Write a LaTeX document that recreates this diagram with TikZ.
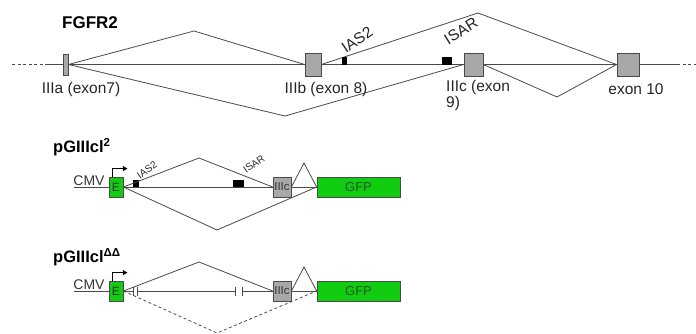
\documentclass[tikz,border=0pt]{standalone}
\usepackage{fontspec}
\setmainfont{Liberation Sans}
\usetikzlibrary{arrows.meta,calc}
\definecolor{ln}{HTML}{4A4A4A}
\definecolor{exgray}{HTML}{A8A8A8}
\definecolor{gfpgreen}{HTML}{11CC11}
\definecolor{gfptext}{HTML}{1F5A1F}
\tikzset{
  conn/.style={draw=ln, line width=0.8pt},
  dash line/.style={conn, dash pattern=on 3pt off 2.5pt},
  exonbox/.style={draw=ln, fill=exgray, line width=0.8pt, inner sep=0pt},
  blackbox/.style={draw=black, fill=black, inner sep=0pt},
  greenbox/.style={draw=ln, fill=gfpgreen, line width=0.8pt, inner sep=0pt},
  lbl/.style={font=\fontsize{15.5}{17}\selectfont, text=black!85, inner sep=0pt},
  smalllbl/.style={font=\fontsize{10}{12}\selectfont, text=black!85, inner sep=0pt},
  title/.style={font=\bfseries\fontsize{17}{19}\selectfont, inner sep=0pt},
  ctitle/.style={font=\bfseries\fontsize{16.5}{19}\selectfont, inner sep=0pt},
  cmvlbl/.style={font=\fontsize{14}{15}\selectfont, text=black!80, inner sep=0pt, anchor=base},
  promoter/.style={draw=black, line width=1pt, -{Triangle[length=4.5pt,width=5pt]}},
  tick/.style={draw=ln, line width=0.8pt},
}
\begin{document}
\begin{tikzpicture}[x=1pt,y=-1pt]
\useasboundingbox[fill=white] (0,0) rectangle (696,334);

% ---------------- FGFR2 ----------------
\node[title] (tFGFR) at (90,23) {FGFR2};
\coordinate (l0) at (12,64.5);
\coordinate (l1) at (45,64.5);
\coordinate (r1) at (677,64.5);
\coordinate (r0) at (696,64.5);
\coordinate (a1) at (194,31);
\coordinate (a2) at (285,116);
\coordinate (a3) at (478,13);
\coordinate (a4) at (557,97);

\node[exonbox, minimum width=5, minimum height=21] (e7) at (65.5,64.5) {};
\node[exonbox, minimum width=16, minimum height=23] (e8) at (313,64.5) {};
\node[exonbox, minimum width=19, minimum height=23] (e9) at (473.5,64.5) {};
\node[exonbox, minimum width=22, minimum height=23] (e10) at (628,64.5) {};

\draw[dash line] (l0) -- (l1);
\draw[conn] (l1) -- (e7.west);
\draw[conn] (e7.east) -- (e8.west);
\draw[conn] (e8.east) -- (e9.west);
\draw[conn] (e9.east) -- (e10.west);
\draw[conn] (e10.east) -- (r1);
\draw[dash line] (r1) -- (r0);

\draw[conn] (e7.east) -- (a1) -- (e8.west);
\draw[conn] (e7.east) -- (a2) -- (e9.west);
\draw[conn] (e8.east) -- (a3) -- (e10.west);
\draw[conn] (e9.east) -- (a4) -- (e10.west);

\node[blackbox, minimum width=4, minimum height=7] (ias) at (344,61) {};
\node[blackbox, minimum width=9, minimum height=7] (isar) at (446.5,61) {};

\node[lbl] (t7) at (81,89) {IIIa (exon7)};
\node[lbl] (t8) at (326,89) {IIIb (exon 8)};
\node[lbl, anchor=north west, align=left, font=\fontsize{15.5}{16}\selectfont] (t9) at (446,80) {IIIc (exon\\9)};
\node[lbl] (t10) at (636,89) {exon 10};
\node[lbl, rotate=34] (tias) at (357,40) {IAS2};
\node[lbl, rotate=32] (tisar) at (461,31) {ISAR};

% ---------------- pGIIIcl2 ----------------
\node[ctitle, anchor=west] (tp1) at (53,147) {pGIIIcl\textsuperscript{2}};
\coordinate (c1) at (74,187);
\coordinate (b1) at (199,158);
\coordinate (b2) at (217,230);
\coordinate (b3) at (304,163);
\node[cmvlbl] (cmv1) at (89,185.5) {CMV};

\node[greenbox, minimum width=14, minimum height=20, font=\fontsize{12}{13}\selectfont, text=black!80] (E1) at (116,187) {E};
\node[exonbox, minimum width=18, minimum height=20, font=\fontsize{11.5}{12}\selectfont, text=black!80] (I1) at (282,187) {IIIc};
\node[greenbox, minimum width=83, minimum height=20, font=\fontsize{13}{14}\selectfont, text=gfptext] (G1) at (358.5,187) {GFP};
\node[blackbox, minimum width=5, minimum height=7] (ias1) at (135.5,183.5) {};
\node[blackbox, minimum width=10, minimum height=7] (isar1) at (238,183.5) {};

\draw[conn] (c1) -- (E1.west);
\draw[conn] (E1.east) -- (I1.west);
\draw[conn] (I1.east) -- (G1.west);
\draw[conn] (E1.east) -- (b1) -- (I1.west);
\draw[conn] (E1.east) -- (b2) -- (G1.west);
\draw[conn] (I1.east) -- (b3) -- (G1.west);
\draw[promoter] ($(E1.north west)+(4,0)$) |- ($(E1.north east)+(4,-8)$);
\node[smalllbl, rotate=35] (tias1) at (147,170) {IAS2};
\node[smalllbl, rotate=35] (tisar1) at (254,164) {ISAR};

% ---------------- pGIIIclDD ----------------
\node[ctitle, anchor=west] (tp2) at (53,257) {pGIIIcl\textsuperscript{ΔΔ}};
\coordinate (c2) at (74,291);
\coordinate (d1) at (199,262);
\coordinate (d2) at (217,333);
\coordinate (d3) at (304,267);
\coordinate (k1) at (133,291);
\coordinate (k2) at (137.5,291);
\coordinate (k3) at (235,291);
\coordinate (k4) at (242,291);
\node[cmvlbl] (cmv2) at (89,289.5) {CMV};

\node[greenbox, minimum width=14, minimum height=20, font=\fontsize{12}{13}\selectfont, text=black!80] (E2) at (116,291) {E};
\node[exonbox, minimum width=18, minimum height=20, font=\fontsize{11.5}{12}\selectfont, text=black!80] (I2) at (282,291) {IIIc};
\node[greenbox, minimum width=83, minimum height=20, font=\fontsize{13}{14}\selectfont, text=gfptext] (G2) at (358.5,291) {GFP};

\draw[conn] (c2) -- (E2.west);
\draw[conn] (E2.east) -- (k1);
\draw[conn] (k2) -- (k3);
\draw[conn] (k4) -- (I2.west);
\draw[conn] (I2.east) -- (G2.west);
\draw[tick] ($(k1)+(0,-4.5)$) -- ($(k1)+(0,4.5)$);
\draw[tick] ($(k2)+(0,-4.5)$) -- ($(k2)+(0,4.5)$);
\draw[tick] ($(k3)+(0,-4.5)$) -- ($(k3)+(0,4.5)$);
\draw[tick] ($(k4)+(0,-4.5)$) -- ($(k4)+(0,4.5)$);
\draw[conn] (E2.east) -- (d1) -- (I2.west);
\draw[dash line] (E2.east) -- (d2) -- (G2.west);
\draw[conn] (I2.east) -- (d3) -- (G2.west);
\draw[promoter] ($(E2.north west)+(4,0)$) |- ($(E2.north east)+(4,-8)$);
\end{tikzpicture}
\end{document}
